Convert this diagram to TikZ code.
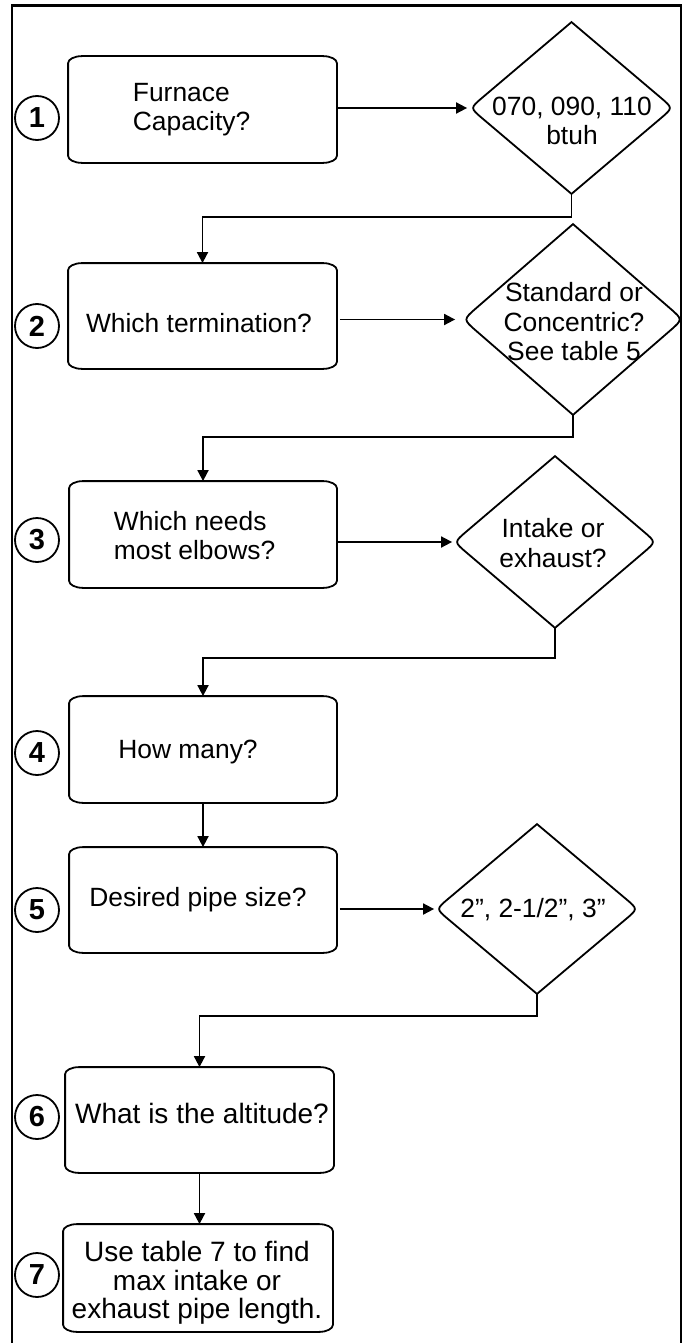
\documentclass[tikz,border=0pt]{standalone}
\usepackage{fontspec}
\setmainfont{Liberation Sans}
\usetikzlibrary{calc,arrows.meta}
\newcommand\drawbox[1]{%
\draw ([xshift=7pt]#1.north west) -- ([xshift=-7pt]#1.north east)
 .. controls ([xshift=-3.1pt]#1.north east) and ([yshift=-1.6pt]#1.north east) .. ([yshift=-3.5pt]#1.north east)
 -- ([yshift=3.5pt]#1.south east)
 .. controls ([yshift=1.6pt]#1.south east) and ([xshift=-3.1pt]#1.south east) .. ([xshift=-7pt]#1.south east)
 -- ([xshift=7pt]#1.south west)
 .. controls ([xshift=3.1pt]#1.south west) and ([yshift=1.6pt]#1.south west) .. ([yshift=3.5pt]#1.south west)
 -- ([yshift=-3.5pt]#1.north west)
 .. controls ([yshift=-1.6pt]#1.north west) and ([xshift=3.1pt]#1.north west) .. ([xshift=7pt]#1.north west) -- cycle;}
\newcommand\drawdia[1]{%
\draw (#1.north) -- ($(#1.east)!0.12!(#1.north)$) .. controls (#1.east) .. ($(#1.east)!0.12!(#1.south)$)
 -- (#1.south) -- ($(#1.west)!0.12!(#1.south)$) .. controls (#1.west) .. ($(#1.west)!0.12!(#1.north)$) -- cycle;}
\begin{document}
\begin{tikzpicture}[x=0.5pt,y=-0.5pt,line width=0.9pt,
  shapen/.style={rectangle,draw=none,inner sep=0pt},
  txt/.style={font=\fontsize{13.2}{14.5}\selectfont,align=center,inner sep=0pt},
  txtb/.style={font=\fontsize{14}{14.3}\selectfont,align=center,inner sep=0pt},
  num/.style={circle,draw,line width=0.9pt,minimum size=22pt,inner sep=0pt,font=\fontsize{14.5}{15}\selectfont\bfseries},
  arr/.style={-{Triangle[length=5.5pt,width=5.5pt]}}]
\useasboundingbox (0,0) rectangle (686,1343);
\draw[line width=1.2pt] (12,1343) -- (12,5.5) -- (681,5.5) -- (681,1343);

% boxes
\node[shapen,minimum width=133.5pt,minimum height=52.5pt] (b1) at (202.5,109.5) {};
\node[shapen,minimum width=133.5pt,minimum height=52pt] (b2) at (202.5,316) {};
\node[shapen,minimum width=133pt,minimum height=52.5pt] (b3) at (203,534.5) {};
\node[shapen,minimum width=133pt,minimum height=52.5pt] (b4) at (203,749.5) {};
\node[shapen,minimum width=133pt,minimum height=52pt] (b5) at (203,900) {};
\node[shapen,minimum width=133.5pt,minimum height=52pt] (b6) at (199.5,1120) {};
\node[shapen,minimum width=134pt,minimum height=53pt] (b7) at (198,1278) {};
\foreach \b in {b1,b2,b3,b4,b5,b6,b7}{\drawbox{\b}}

% diamonds
\node[shapen,minimum width=100.5pt,minimum height=85pt] (d1) at (571.5,108) {};
\node[shapen,minimum width=109pt,minimum height=94.5pt] (d2) at (573,319.5) {};
\node[shapen,minimum width=100pt,minimum height=85pt] (d3) at (555,542) {};
\node[shapen,minimum width=100pt,minimum height=84pt] (d4) at (537,909) {};
\foreach \d in {d1,d2,d3,d4}{\drawdia{\d}}

% texts
\node[txt,align=left,anchor=west] (t1) at (132,110) {Furnace\\Capacity?};
\node[txt] (t2) at (199,323) {Which termination?};
\node[txt,align=left,anchor=west] (t3) at (113,536) {Which needs\\most elbows?};
\node[txt] (t4) at (188,752) {How many?};
\node[txt] (t5) at (198,900) {Desired pipe size?};
\node[txtb] (t6) at (202,1113) {What is the altitude?};
\node[txtb] (t7) at (197,1283) {Use table 7 to find\\max intake or\\exhaust pipe length.};
\node[txt] (td1) at (572,121) {070, 090, 110\\btuh};
\node[txt,font=\fontsize{13.2}{14.75}\selectfont] (td2) at (574,322) {Standard or\\Concentric?\\See table 5};
\node[txt,font=\fontsize{13.2}{15}\selectfont] (td3) at (553,543) {Intake or\\exhaust?};
\node[txt] (td4) at (533,910) {2”, 2-1/2”, 3”};

% step numbers
\node[num] (n1) at (37,118) {1};
\node[num] (n2) at (37,326) {2};
\node[num] (n3) at (37,540) {3};
\node[num] (n4) at (37,753) {4};
\node[num] (n5) at (37,910) {5};
\node[num] (n6) at (37,1117) {6};
\node[num] (n7) at (37,1275) {7};

% junctions
\coordinate (j1) at ($(b2.north)+(0,-46)$);
\coordinate (j2) at ($(b3.north)+(0,-44)$);
\coordinate (j3) at ($(b4.north)+(0,-38)$);
\coordinate (j4) at ($(b6.north)+(0,-51)$);

% connectors
\draw[arr,shorten >=1.5pt] (b1.east |- d1.west) -- (d1.west);
\draw[arr,shorten <=1.5pt,shorten >=4pt] (b2.east |- d2.west) -- (d2.west);
\draw[arr,shorten >=1pt] (b3.east |- d3.west) -- (d3.west);
\draw[arr,shorten <=1.5pt,shorten >=1pt] (b5.east |- d4.west) -- (d4.west);
\draw[arr] (d1.south) |- (j1) -- (b2.north);
\draw[arr] (d2.south) |- (j2) -- (b3.north);
\draw[arr] (d3.south) |- (j3) -- (b4.north);
\draw[arr] (d4.south) |- (j4) -- (b6.north);
\draw[arr] (b4.south) -- (b5.north);
\draw[arr] (b6.south) -- (b6.south |- b7.north);
\end{tikzpicture}
\end{document}
